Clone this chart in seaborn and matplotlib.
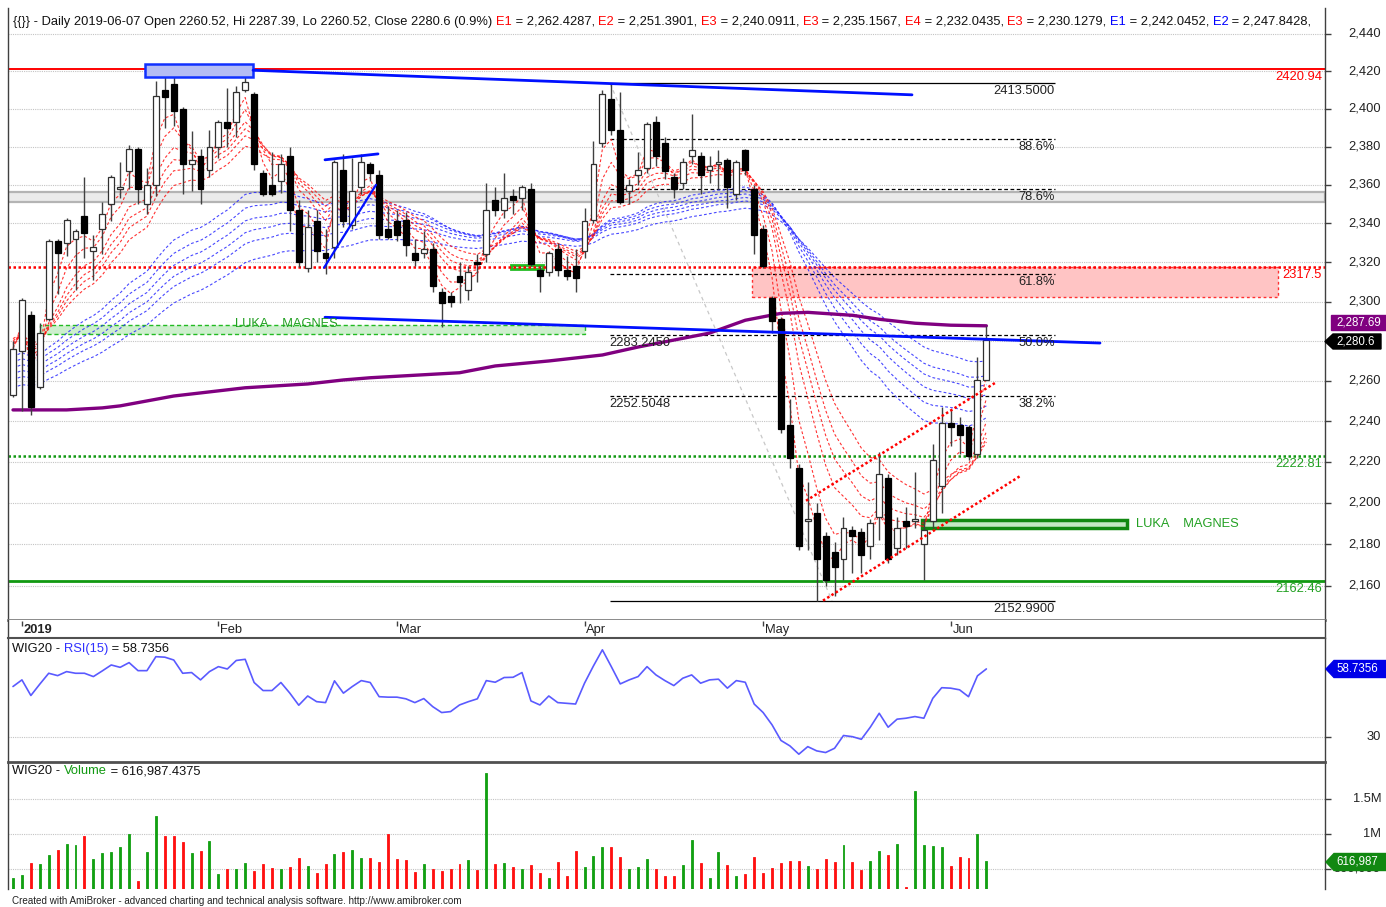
import matplotlib
matplotlib.use('Agg')
import matplotlib.pyplot as plt
import matplotlib.patches as mpatches
import matplotlib.transforms as mtransforms
from matplotlib.ticker import FixedLocator, NullLocator
import numpy as np
import pandas as pd
import seaborn as sns

sns.set_theme(style='white')
plt.rcParams['font.family'] = ['Liberation Sans', 'DejaVu Sans']

W, H = 1386, 907
PITCH = 8.93  # pixels per bar
X0 = 13.0     # pixel of first bar
FS = 9.3

# ---- daily bars, 2018-12-28 .. 2019-06-07 ----
opens = [2253, 2275, 2293, 2257, 2291, 2331, 2330, 2332, 2344, 2326,
         2337, 2350, 2358, 2367, 2379, 2350, 2360, 2410, 2413, 2400,
         2371, 2375, 2368, 2380, 2393, 2393, 2410, 2408, 2366, 2360,
         2362, 2375, 2347, 2317, 2341, 2325, 2328, 2368, 2339, 2359,
         2371, 2365, 2337, 2341, 2342, 2325, 2325, 2327, 2305, 2303,
         2313, 2306, 2320, 2324, 2352, 2347, 2354, 2353, 2358, 2316,
         2315, 2327, 2316, 2318, 2326, 2342, 2382, 2405, 2389, 2357,
         2365, 2369, 2393, 2382, 2364, 2361, 2375, 2375, 2368, 2371,
         2373, 2355, 2378, 2358, 2337, 2302, 2291, 2238, 2217, 2191,
         2195, 2184, 2176, 2173, 2187, 2186, 2179, 2193, 2212, 2178,
         2191, 2191, 2180, 2191, 2208, 2239, 2238, 2237, 2224, 2260.52]
highs = [2280, 2302, 2295, 2289, 2332, 2332, 2343, 2337, 2364, 2334,
         2351, 2365, 2372, 2381, 2380, 2369, 2415, 2420.94, 2417, 2401,
         2388, 2379, 2389, 2394, 2411, 2412, 2420, 2409, 2368, 2377,
         2376, 2380, 2352, 2347, 2347, 2337, 2373, 2376, 2374, 2376,
         2372, 2368, 2349, 2347, 2346, 2332, 2336, 2330, 2307, 2305,
         2320, 2318, 2324, 2361, 2359, 2366, 2358, 2360, 2361, 2318,
         2326, 2330, 2323, 2327, 2348, 2383, 2410, 2413.5, 2409, 2363,
         2377, 2393, 2396, 2385, 2366, 2374, 2397, 2377, 2375, 2378,
         2374, 2373, 2379, 2360, 2339, 2303, 2292, 2251, 2219, 2210,
         2200, 2186, 2181, 2193, 2189, 2188, 2192, 2225, 2214, 2193,
         2198, 2215, 2192, 2229, 2247, 2246, 2242, 2238, 2272, 2287.39]
lows = [2252, 2245, 2243, 2256, 2290, 2304, 2323, 2306, 2322, 2311,
        2324, 2341, 2353, 2358, 2350, 2345, 2354, 2390, 2391, 2355,
        2357, 2350, 2364, 2374, 2380, 2385, 2409, 2368, 2354, 2354,
        2356, 2336, 2317.5, 2315, 2320, 2314, 2322, 2338, 2337, 2355,
        2362, 2332, 2332, 2331, 2323, 2318, 2322, 2305, 2287, 2297,
        2299, 2301, 2310, 2320, 2344, 2343, 2345, 2347, 2318, 2305,
        2313, 2313, 2311, 2305, 2322, 2340, 2380, 2386, 2350, 2350,
        2360, 2366, 2370, 2363, 2353, 2358, 2371, 2355, 2361, 2358,
        2348, 2352, 2365, 2324, 2317, 2284, 2234, 2217, 2177, 2177,
        2152.99, 2160, 2155, 2163, 2166, 2166, 2173, 2182, 2171, 2175,
        2178, 2188, 2163, 2188, 2195, 2228, 2224, 2221, 2222, 2260.52]
closes = [2276, 2301, 2247, 2284, 2331, 2325, 2342, 2336, 2335, 2328,
          2345, 2364, 2359, 2379, 2358, 2360, 2407, 2406, 2399, 2371,
          2373, 2358, 2380, 2393, 2390, 2409, 2414, 2371, 2355, 2355,
          2371, 2347, 2320, 2338, 2326, 2322, 2372, 2341, 2357, 2372,
          2366, 2334, 2333, 2334, 2329, 2321, 2327, 2308, 2299, 2300,
          2310, 2315, 2319, 2347, 2347, 2353, 2352, 2359, 2319, 2313,
          2325, 2316, 2313, 2312, 2341, 2371, 2408, 2389, 2351, 2360,
          2368, 2392, 2375, 2367, 2358, 2372, 2378, 2365, 2370, 2372,
          2359, 2372, 2368, 2334, 2318, 2290, 2236, 2222, 2179, 2192,
          2173, 2163, 2169, 2188, 2184, 2175, 2190, 2214, 2173, 2188,
          2189, 2192, 2187, 2221, 2239, 2237, 2233, 2223, 2260.52, 2280.6]
volume_m = [0.367, 0.414, 0.59, 0.571, 0.70, 0.771, 0.857, 0.843, 0.971, 0.643,
            0.733, 0.748, 0.819, 1.0, 0.324, 0.743, 1.257, 0.971, 0.971, 0.89,
            0.733, 0.762, 0.905, 0.424, 0.495, 0.495, 0.581, 0.471, 0.571, 0.514,
            0.495, 0.529, 0.652, 0.543, 0.438, 0.571, 0.714, 0.748, 0.771, 0.657,
            0.657, 0.60, 1.0, 0.643, 0.629, 0.452, 0.571, 0.495, 0.471, 0.495,
            0.571, 0.629, 0.486, 1.876, 0.571, 0.59, 0.524, 0.495, 0.557, 0.438,
            0.367, 0.605, 0.40, 0.762, 0.524, 0.686, 0.819, 0.819, 0.667, 0.495,
            0.524, 0.643, 0.495, 0.40, 0.40, 0.557, 0.914, 0.581, 0.367, 0.743,
            0.557, 0.40, 0.424, 0.671, 0.438, 0.514, 0.59, 0.619, 0.619, 0.543,
            0.495, 0.643, 0.605, 0.843, 0.605, 0.486, 0.619, 0.762, 0.70, 0.857,
            0.248, 1.614, 0.843, 0.829, 0.814, 0.543, 0.671, 0.657, 1.005, 0.617]
rsi15 = [51.3, 54.1, 47.5, 52.3, 56.9, 55.9, 57.6, 56.9, 56.9, 55.5,
         57.9, 60.4, 59.4, 61.4, 58.0, 58.0, 63.9, 63.7, 62.5, 56.9,
         57.2, 54.1, 57.6, 59.7, 58.7, 62.3, 62.8, 53.0, 49.6, 49.6,
         53.0, 48.5, 43.4, 47.3, 44.9, 44.5, 53.7, 48.5, 51.3, 53.8,
         53.0, 47.0, 46.8, 46.8, 46.1, 44.5, 46.2, 42.8, 40.3, 40.7,
         43.5, 44.9, 46.1, 53.8, 53.1, 55.1, 55.2, 57.2, 45.2, 43.5,
         47.3, 44.5, 44.2, 43.9, 52.7, 60.0, 66.8, 59.7, 52.4, 54.1,
         55.5, 59.7, 56.2, 53.8, 51.7, 54.8, 56.2, 52.7, 54.1, 54.4,
         50.6, 53.8, 53.1, 43.9, 40.3, 35.1, 28.5, 26.2, 22.7, 25.9,
         24.1, 23.4, 25.2, 30.6, 30.1, 29.0, 34.1, 40.0, 34.1, 37.5,
         37.9, 38.6, 37.9, 46.3, 50.8, 50.6, 49.9, 47.0, 55.8, 58.7356]

# long moving average (purple), sampled at bar indices
ma_idx = [0, 6, 10, 12, 18, 26, 33, 37, 40, 50, 54, 60, 66, 70, 78, 82, 86, 89, 94, 97, 101, 105, 109]
ma_val = [2245.6, 2245.6, 2246.6, 2247.6, 2252.5, 2256.6, 2258.5, 2260.5, 2261.6, 2264.1,
          2267.5, 2270, 2273, 2277, 2284, 2290.5, 2294, 2294.5, 2293, 2291, 2289, 2288, 2287.69]

# guppy ribbons: periods and their values at the first bar
red_periods = [3, 5, 8, 10, 12, 15]
red_seeds = [2276, 2277, 2279, 2280, 2281, 2282]
blue_periods = [30, 35, 40, 45, 50, 60]
blue_seeds = [2272, 2269, 2266, 2263, 2260, 2256]

month_idx = [1, 23, 43, 64, 84, 105]
month_lbl = ['2019', 'Feb', 'Mar', 'Apr', 'May', 'Jun']
price_ticks = list(range(2160, 2441, 20))

fib_hi, fib_lo = 2413.5, 2152.99
fib_levels = [0.886, 0.786, 0.618, 0.5, 0.382]


def fr(x0, y0, x1, y1):
    return [x0 / W, 1 - y1 / H, (x1 - x0) / W, (y1 - y0) / H]


def ix(px):
    return (px - X0) / PITCH


fig = plt.figure(figsize=(W / 100, H / 100), dpi=100)
ax_p = fig.add_axes(fr(8, 8, 1325, 620))
ax_d = fig.add_axes(fr(8, 620, 1325, 638))
ax_r = fig.add_axes(fr(8, 638, 1325, 762))
ax_v = fig.add_axes(fr(8, 762, 1325, 889))

xlim = (ix(8), ix(1325))
for ax in (ax_p, ax_d, ax_r, ax_v):
    ax.set_xlim(*xlim)
    ax.set_facecolor('white')
    ax.tick_params(left=False, labelleft=False, bottom=False, labelbottom=False,
                   right=True, labelright=False, direction='out', length=4,
                   width=1, color='#404040')
    for s in ax.spines.values():
        s.set_visible(False)
    for s in ('left', 'right'):
        ax.spines[s].set_visible(True)
        ax.spines[s].set_color('#404040')
        ax.spines[s].set_linewidth(1)

x = np.arange(len(closes))
o = np.array(opens, float)
h = np.array(highs, float)
l = np.array(lows, float)
c = np.array(closes, float)
up = c >= o

# ---------------- price pane ----------------
ax_p.set_yscale('log')
ax_p.set_ylim(2143.8, 2454.0)
ax_p.yaxis.set_major_locator(FixedLocator(price_ticks))
ax_p.yaxis.set_minor_locator(NullLocator())
ax_p.tick_params(axis='y', which='minor', right=False)
ax_p.spines['bottom'].set_visible(True)
ax_p.spines['bottom'].set_color('#808080')
ax_p.spines['bottom'].set_linewidth(2)
ax_p.hlines(price_ticks, *xlim, colors='#C4C4C4', linestyles=(0, (1, 1)), lw=0.8, zorder=0)

lab_tr = mtransforms.blended_transform_factory(fig.transFigure, ax_p.transData)
for v in price_ticks:
    if v == 2280:  # hidden behind the last-close tag
        continue
    ax_p.text(1381 / W, v, f'{v:,}', transform=lab_tr, ha='right', va='center',
              fontsize=FS, color='#222222', clip_on=False)

# grey band, pink zone, green gap zones
ax_p.add_patch(mpatches.Rectangle((xlim[0], 2351.1), xlim[1] - xlim[0], 5.2,
                                  facecolor='#EBEBEB', edgecolor='#B4B4B4', lw=1.6, zorder=1))
ax_p.add_patch(mpatches.Rectangle((ix(752), 2302.3), ix(1278) - ix(752), 15.2,
                                  facecolor='#FFC4C4', edgecolor='#FF3030', lw=1,
                                  ls=(0, (2, 2)), zorder=1))
ax_p.add_patch(mpatches.Rectangle((ix(40), 2283.6), ix(585) - ix(40), 4.6,
                                  facecolor='#CDEFCD', edgecolor='#22BB22', lw=1,
                                  ls=(0, (3, 2)), zorder=1))
ax_p.add_patch(mpatches.Rectangle((ix(922), 2187.6), ix(1127) - ix(922), 4.3,
                                  facecolor='#C4E8C4', edgecolor='#118811', lw=2.5, zorder=2))
ax_p.add_patch(mpatches.Rectangle((ix(511), 2316.6), ix(543) - ix(511), 1.9,
                                  facecolor='#C4E8C4', edgecolor='#22BB22', lw=2, zorder=2))
ax_p.add_patch(mpatches.Rectangle((ix(145), 2416.9), ix(253) - ix(145), 7.0,
                                  facecolor='#B4BCF4', edgecolor='#1030FF', lw=1.8, zorder=6))

# horizontal levels
ax_p.axhline(2420.94, color='#FF0000', lw=1.4, zorder=2)
ax_p.axhline(2317.5, color='#FF0000', lw=1.8, ls=(0, (1, 1)), zorder=2)
ax_p.axhline(2222.81, color='#119911', lw=1.8, ls=(0, (1, 1)), zorder=2)
ax_p.axhline(2162.46, color='#119911', lw=2, zorder=2)

down2 = mtransforms.offset_copy(ax_p.transData, fig=fig, y=-2, units='dots')
xr = ix(1322)
ax_p.text(xr, 2420.94, '2420.94', color='#FF0000', ha='right', va='top', fontsize=FS, transform=down2)
ax_p.text(xr, 2317.5, '2317.5', color='#FF0000', ha='right', va='top', fontsize=FS, transform=down2)
ax_p.text(xr, 2222.81, '2222.81', color='#22A022', ha='right', va='top', fontsize=FS, transform=down2)
ax_p.text(xr, 2162.46, '2162.46', color='#22A022', ha='right', va='top', fontsize=FS, transform=down2)

ax_p.text(ix(235), 2288.6, 'LUKA    MAGNES', color='#22A022', fontsize=FS, va='center', zorder=7)
ax_p.text(ix(1136), 2189.7, 'LUKA    MAGNES', color='#22A022', fontsize=FS, va='center', zorder=7)

# fibonacci retracement
fx0, fx1 = ix(610), ix(1055)
ax_p.plot([fx0, ix(832)], [fib_hi, fib_lo], color='#C8C8C8', lw=0.9, ls=(0, (3, 3)), zorder=2)
ax_p.hlines([fib_hi, fib_lo], fx0, fx1, colors='black', lw=0.9, zorder=3)
for f in fib_levels:
    lv = fib_lo + f * (fib_hi - fib_lo)
    ax_p.hlines(lv, fx0, fx1, colors='black', lw=0.9, linestyles=(0, (3, 2)), zorder=3)
    ax_p.text(fx1, lv, f'{f * 100:.1f}%', ha='right', va='top', fontsize=FS,
              color='#222222', transform=down2, zorder=7)
    if f in (0.5, 0.382):
        ax_p.text(ix(609), lv, f'{lv:.4f}', ha='left', va='top', fontsize=FS,
                  color='#222222', transform=down2, zorder=7)
ax_p.text(fx1, fib_hi, f'{fib_hi:.4f}', ha='right', va='top', fontsize=FS, color='#222222', transform=down2)
ax_p.text(fx1, fib_lo, f'{fib_lo:.4f}', ha='right', va='top', fontsize=FS, color='#222222', transform=down2)

# trend lines
ax_p.plot([ix(253), ix(912)], [2420.5, 2407.4], color='#0010FF', lw=2, zorder=6)
ax_p.plot([ix(325), ix(1100)], [2292.0, 2279.0], color='#0010FF', lw=2, zorder=6)
ax_p.plot([ix(325), ix(378)], [2373.1, 2376.2], color='#0010FF', lw=2, zorder=6)
ax_p.plot([ix(324), ix(376)], [2317.2, 2360.0], color='#0010FF', lw=1.6, zorder=6)
ax_p.plot([ix(806), ix(995)], [2201, 2259], color='#FF0000', lw=1.8, ls=(0, (1, 1)), zorder=6)
ax_p.plot([ix(823), ix(1020)], [2153, 2213], color='#FF0000', lw=1.8, ls=(0, (1, 1)), zorder=6)

# guppy ribbons from closes
cl = pd.Series(c)
for periods, seeds, col in ((blue_periods, blue_seeds, '#2828FF'), (red_periods, red_seeds, '#FF1010')):
    for p, s in zip(periods, seeds):
        ema = pd.concat([pd.Series([float(s)]), cl], ignore_index=True)
        ema = ema.ewm(span=p, adjust=False).mean().iloc[1:].to_numpy()
        ax_p.plot(x, ema, color=col, lw=0.8, ls=(0, (2.5, 2)), alpha=0.85, zorder=3)

# long average
sns.lineplot(x=ma_idx, y=ma_val, ax=ax_p, color='#800080', lw=2.4, zorder=4)

# candles
ax_p.vlines(x, l, h, color='#404040', lw=1, zorder=4)
body_lo = np.minimum(o, c)
body_h = np.maximum(np.abs(c - o), 0.5)
ax_p.bar(x[up], body_h[up], bottom=body_lo[up], width=0.66, color='white',
         edgecolor='#303030', lw=0.9, zorder=5)
ax_p.bar(x[~up], body_h[~up], bottom=body_lo[~up], width=0.66, color='black',
         edgecolor='black', lw=0.9, zorder=5)
ax_p.set_ylim(2143.8, 2454.0)
ax_p.set_xlim(*xlim)
ax_p.set_xlabel('')
ax_p.set_ylabel('')

# ---------------- date strip ----------------
ax_d.set_ylim(0, 1)
ax_d.spines['bottom'].set_visible(True)
ax_d.spines['bottom'].set_color('#505050')
ax_d.tick_params(right=False)
ax_d.vlines(month_idx, 0.68, 0.92, color='#404040', lw=1)
for mi, ml in zip(month_idx, month_lbl):
    ax_d.text(mi + 0.2, 0.45, ml, ha='left', va='center', fontsize=FS, color='#222222',
              fontweight='bold' if ml == '2019' else 'normal')

# ---------------- RSI pane ----------------
ax_r.set_ylim(19.4, 71.8)
ax_r.yaxis.set_major_locator(FixedLocator([30]))
ax_r.spines['top'].set_visible(True)
ax_r.spines['top'].set_color('#505050')
ax_r.spines['top'].set_linewidth(1.5)
ax_r.axhline(30, color='#C4C4C4', ls=(0, (1, 1)), lw=0.8, zorder=0)
sns.lineplot(x=x, y=rsi15, ax=ax_r, color='#5A5AFF', lw=1.2)
ax_r.set_xlim(*xlim)
ax_r.set_xlabel('')
ax_r.set_ylabel('')
rtr = mtransforms.blended_transform_factory(fig.transFigure, ax_r.transData)
ax_r.text(1381 / W, 30, '30', transform=rtr, ha='right', va='center', fontsize=FS, color='#222222')

# ---------------- volume pane ----------------
ax_v.set_ylim(0.214, 2.029)
ax_v.yaxis.set_major_locator(FixedLocator([0.5, 1.0, 1.5]))
ax_v.spines['top'].set_visible(True)
ax_v.spines['top'].set_color('#505050')
ax_v.spines['top'].set_linewidth(2)
ax_v.hlines([0.5, 1.0, 1.5], *xlim, colors='#C4C4C4', linestyles=(0, (1, 1)), lw=0.8, zorder=0)
vcol = np.where(up, '#12A012', '#FF1010')
ax_v.bar(x, volume_m, width=0.22, color=vcol, edgecolor=vcol, lw=0.6, zorder=3)
vtr = mtransforms.blended_transform_factory(fig.transFigure, ax_v.transData)
for v, t in ((1.5, '1.5M'), (1.0, '1M'), (0.5, '500,000')):
    ax_v.text(1381 / W, v, t, transform=vtr, ha='right', va='center', fontsize=FS, color='#222222')


# ---------------- text rows and value tags ----------------
renderer = fig.canvas.get_renderer()


def text_w(s, size):
    t = fig.text(0, 0, s + '|', fontsize=size)
    w1 = t.get_window_extent(renderer).width
    t.remove()
    t = fig.text(0, 0, '|', fontsize=size)
    w2 = t.get_window_extent(renderer).width
    t.remove()
    return w1 - w2


def rich(x_px, y_px, pieces, size=FS):
    prefix = ''
    for s, col in pieces:
        xo = x_px + (text_w(prefix, size) if prefix else 0)
        fig.text(xo / W, 1 - y_px / H, s, color=col, fontsize=size, ha='left', va='center')
        prefix += s


K, R, B, G = '#111111', '#FF0000', '#0000FF', '#119911'
rich(13, 22, [('{{}} - Daily 2019-06-07 Open 2260.52, Hi 2287.39, Lo 2260.52, Close 2280.6 (0.9%) ', K),
              ('E1', R), (' = 2,262.4287, ', K), ('E2', R), (' = 2,251.3901, ', K),
              ('E3', R), (' = 2,240.0911, ', K), ('E3', R), (' = 2,235.1567, ', K),
              ('E4', R), (' = 2,232.0435, ', K), ('E3', R), (' = 2,230.1279, ', K),
              ('E1', B), (' = 2,242.0452, ', K), ('E2', B), (' = 2,247.8428,', K)])
rich(12, 649, [('WIG20 - ', K), ('RSI(15)', '#3030FF'), (' = 58.7356', K)])
rich(12, 771, [('WIG20 - ', K), ('Volume', G), (' = 616,987.4375', K)])
fig.text(12 / W, 1 - 901 / H, 'Created with AmiBroker - advanced charting and technical analysis '
         'software. http://www.amibroker.com', fontsize=7.1, color='#222222', va='center')


def px(xp, yp):
    return (xp / W, 1 - yp / H)


def tag(x_tip, x_right, yc, half, color, label, arrow=True):
    if arrow:
        pts = [(x_tip, yc), (x_tip + 8, yc - half), (x_right, yc - half),
               (x_right, yc + half), (x_tip + 8, yc + half)]
    else:
        pts = [(x_tip, yc - half), (x_right, yc - half), (x_right, yc + half), (x_tip, yc + half)]
    fig.patches.append(mpatches.Polygon([px(*p) for p in pts], closed=True,
                                        transform=fig.transFigure, facecolor=color,
                                        edgecolor=color, zorder=10))
    fig.text(1336 / W, 1 - yc / H, label, color='white', fontsize=8.3, ha='left', va='center', zorder=11)


tag(1331, 1386, 322.5, 7.5, '#800080', '2,287.69', arrow=False)
tag(1325, 1381, 341.5, 7.5, '#000000', '2,280.6')
tag(1326, 1386, 669, 8.5, '#0000E8', '58.7356')
tag(1326, 1386, 862, 8.5, '#118811', '616,987')

fig.savefig('out.png', dpi=100)
